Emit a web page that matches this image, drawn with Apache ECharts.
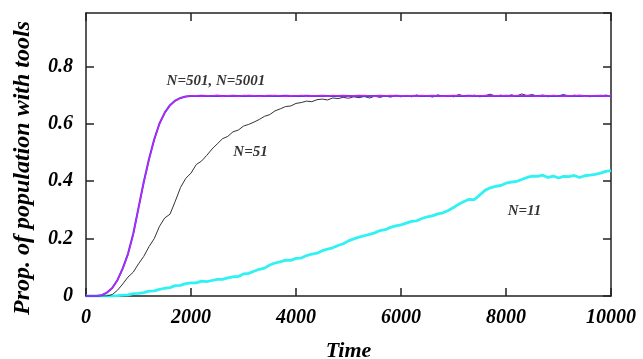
<!DOCTYPE html>
<html>
<head>
<meta charset="utf-8">
<script src="https://cdn.jsdelivr.net/npm/echarts@6/dist/echarts.min.js"></script>
<style>
html,body{margin:0;padding:0;background:#fff;}
#chart{width:643px;height:359px;}
</style>
</head>
<body>
<div id="chart"></div>
<script>
// sampling times
const times = [0,100,200,300,400,500,600,700,800,900,
1000,1100,1200,1300,1400,1500,1600,1700,1800,1900,
2000,2100,2200,2300,2400,2500,2600,2700,2800,2900,
3000,3100,3200,3300,3400,3500,3600,3700,3800,3900,
4000,4100,4200,4300,4400,4500,4600,4700,4800,4900,
5000,5100,5200,5300,5400,5500,5600,5700,5800,5900,
6000,6100,6200,6300,6400,6500,6600,6700,6800,6900,
7000,7100,7200,7300,7400,7500,7600,7700,7800,7900,
8000,8100,8200,8300,8400,8500,8600,8700,8800,8900,
9000,9100,9200,9300,9400,9500,9600,9700,9800,9900,10000];

// N=5001 (blue)
const n5001 = [0,0,0,0.003,0.012,0.028,0.056,0.096,0.147,0.217,
0.307,0.397,0.477,0.546,0.601,0.639,0.665,0.681,0.69,0.695,
0.697,0.697,0.698,0.697,0.697,0.698,0.697,0.697,0.698,0.697,
0.697,0.698,0.697,0.697,0.697,0.698,0.697,0.697,0.698,0.697,
0.697,0.697,0.698,0.697,0.697,0.698,0.697,0.697,0.697,0.698,
0.697,0.697,0.698,0.697,0.697,0.697,0.698,0.697,0.697,0.698,
0.697,0.697,0.697,0.698,0.697,0.697,0.698,0.697,0.697,0.697,
0.698,0.697,0.697,0.698,0.697,0.697,0.697,0.698,0.697,0.697,
0.698,0.697,0.697,0.697,0.698,0.697,0.697,0.698,0.697,0.697,
0.697,0.698,0.697,0.697,0.698,0.697,0.697,0.697,0.698,0.697,0.697];

// N=501 (magenta)
const n501 = [0,0,0,0.003,0.012,0.028,0.055,0.095,0.145,0.215,
0.305,0.395,0.475,0.545,0.6,0.638,0.664,0.68,0.69,0.695,
0.697,0.698,0.696,0.698,0.697,0.699,0.696,0.698,0.697,0.696,
0.699,0.697,0.698,0.696,0.698,0.697,0.699,0.697,0.696,0.698,
0.697,0.699,0.696,0.698,0.697,0.698,0.696,0.699,0.697,0.698,
0.696,0.698,0.697,0.699,0.697,0.696,0.698,0.697,0.699,0.696,
0.698,0.697,0.698,0.696,0.699,0.697,0.698,0.697,0.696,0.698,
0.697,0.699,0.697,0.696,0.698,0.697,0.699,0.696,0.698,0.697,
0.698,0.696,0.699,0.697,0.698,0.697,0.696,0.698,0.697,0.699,
0.697,0.696,0.698,0.697,0.699,0.696,0.698,0.697,0.698,0.696,0.698];

// N=51 (black)
const n51 = [0,0,0,0,0,0.005,0.02,0.042,0.066,0.083,
0.112,0.138,0.172,0.2,0.243,0.272,0.285,0.33,0.378,0.41,
0.428,0.458,0.47,0.49,0.512,0.53,0.548,0.556,0.572,0.578,
0.592,0.598,0.606,0.615,0.626,0.632,0.645,0.652,0.66,0.662,
0.671,0.674,0.679,0.677,0.684,0.686,0.683,0.69,0.688,0.692,
0.689,0.694,0.691,0.695,0.69,0.696,0.692,0.697,0.693,0.698,
0.694,0.699,0.694,0.7,0.695,0.698,0.693,0.701,0.696,0.699,
0.694,0.702,0.697,0.695,0.7,0.694,0.698,0.703,0.696,0.7,
0.695,0.701,0.697,0.704,0.698,0.702,0.696,0.7,0.694,0.699,
0.697,0.702,0.695,0.7,0.696,0.698,0.694,0.699,0.696,0.7,0.697];

// N=11 (cyan)
const n11 = [0,0,0,0,0,0,0.001,0.003,0.004,0.008,
0.009,0.012,0.017,0.018,0.023,0.027,0.029,0.036,0.037,0.043,
0.046,0.046,0.052,0.05,0.054,0.058,0.058,0.063,0.067,0.068,
0.077,0.079,0.086,0.093,0.097,0.108,0.115,0.119,0.125,0.124,
0.131,0.132,0.141,0.146,0.149,0.158,0.163,0.168,0.176,0.182,
0.192,0.199,0.205,0.21,0.215,0.22,0.228,0.231,0.239,0.244,
0.248,0.254,0.26,0.262,0.27,0.276,0.279,0.286,0.29,0.298,
0.308,0.32,0.329,0.337,0.336,0.352,0.368,0.377,0.382,0.385,
0.393,0.397,0.399,0.406,0.413,0.418,0.417,0.421,0.413,0.418,
0.411,0.417,0.416,0.42,0.413,0.419,0.421,0.424,0.428,0.434,0.437];

// annotations
const annoText = ['N=501, N=5001', 'N=51', 'N=11'];
const annoT = [2476, 3133, 8352];
const annoV = [0.747, 0.502, 0.297];

const xTicks = [0, 2000, 4000, 6000, 8000, 10000];
const yTicks = [0, 0.2, 0.4, 0.6, 0.8];

function pairs(vals) { return times.map((t, i) => [t, vals[i]]); }

const FONT = 'Liberation Serif';
const lblStyle = { fontFamily: FONT, fontWeight: 'bold', fontStyle: 'italic', fontSize: 20, color: '#000' };
const axLine = { show: true, onZero: false, lineStyle: { color: '#222', width: 1.5 } };
const tick = { show: true, inside: true, length: 8, lineStyle: { color: '#222', width: 1.5 } };

const chart = echarts.init(document.getElementById('chart'), null, { renderer: 'canvas' });
chart.setOption({
  animation: false,
  backgroundColor: '#fff',
  grid: { left: 86, right: 32, top: 13, bottom: 63, containLabel: false, outerBoundsMode: 'none' },
  xAxis: [
    { type: 'value', position: 'bottom', min: 0, max: 10000, interval: 2000,
      axisLine: axLine, axisTick: tick, splitLine: { show: false },
      axisLabel: Object.assign({ margin: 12, formatter: v => xTicks.includes(v) ? String(v) : '' }, lblStyle),
      name: 'Time', nameLocation: 'middle', nameGap: 44,
      nameTextStyle: { fontFamily: FONT, fontWeight: 'bold', fontStyle: 'italic', fontSize: 22, color: '#000' } },
    { type: 'value', position: 'top', min: 0, max: 10000, interval: 2000,
      axisLine: axLine, axisTick: tick, splitLine: { show: false }, axisLabel: { show: false } }
  ],
  yAxis: [
    { type: 'value', position: 'left', min: 0, max: 0.986, interval: 0.2,
      axisLine: axLine, axisTick: tick, splitLine: { show: false },
      axisLabel: Object.assign({ margin: 13, showMaxLabel: false,
        formatter: v => { const r = Math.round(v * 10) / 10; return yTicks.includes(r) && Math.abs(v - r) < 1e-6 ? (r === 0 ? '0' : r.toFixed(1)) : ''; } }, lblStyle),
      name: 'Prop. of population with tools', nameLocation: 'middle', nameGap: 51, nameRotate: 90,
      nameTextStyle: { fontFamily: FONT, fontWeight: 'bold', fontStyle: 'italic', fontSize: 24, color: '#000', padding: [0, 27, 0, 0] } },
    { type: 'value', position: 'right', min: 0, max: 0.986, interval: 0.2,
      axisLine: axLine, axisTick: tick, splitLine: { show: false }, axisLabel: { show: false } }
  ],
  series: [
    { name: 'N=11', type: 'line', data: pairs(n11), showSymbol: false, symbol: 'none',
      lineStyle: { color: '#30f2f2', width: 2.8 }, z: 2 },
    { name: 'N=51', type: 'line', data: pairs(n51), showSymbol: false, symbol: 'none',
      lineStyle: { color: '#333', width: 1 }, z: 3 },
    { name: 'N=5001', type: 'line', data: pairs(n5001), showSymbol: false, symbol: 'none',
      lineStyle: { color: '#3a3aff', width: 2 }, z: 4 },
    { name: 'N=501', type: 'line', data: pairs(n501), showSymbol: false, symbol: 'none',
      lineStyle: { color: '#cc22ee', width: 1.3 }, z: 5 },
    { name: 'labels', type: 'scatter', symbolSize: 0, z: 6,
      data: annoText.map((s, i) => ({ value: [annoT[i], annoV[i]], name: s })),
      label: { show: true, position: 'inside', formatter: p => p.name,
        fontFamily: FONT, fontWeight: 'bold', fontStyle: 'italic', fontSize: 15, color: '#000' } }
  ]
});
</script>
</body>
</html>
